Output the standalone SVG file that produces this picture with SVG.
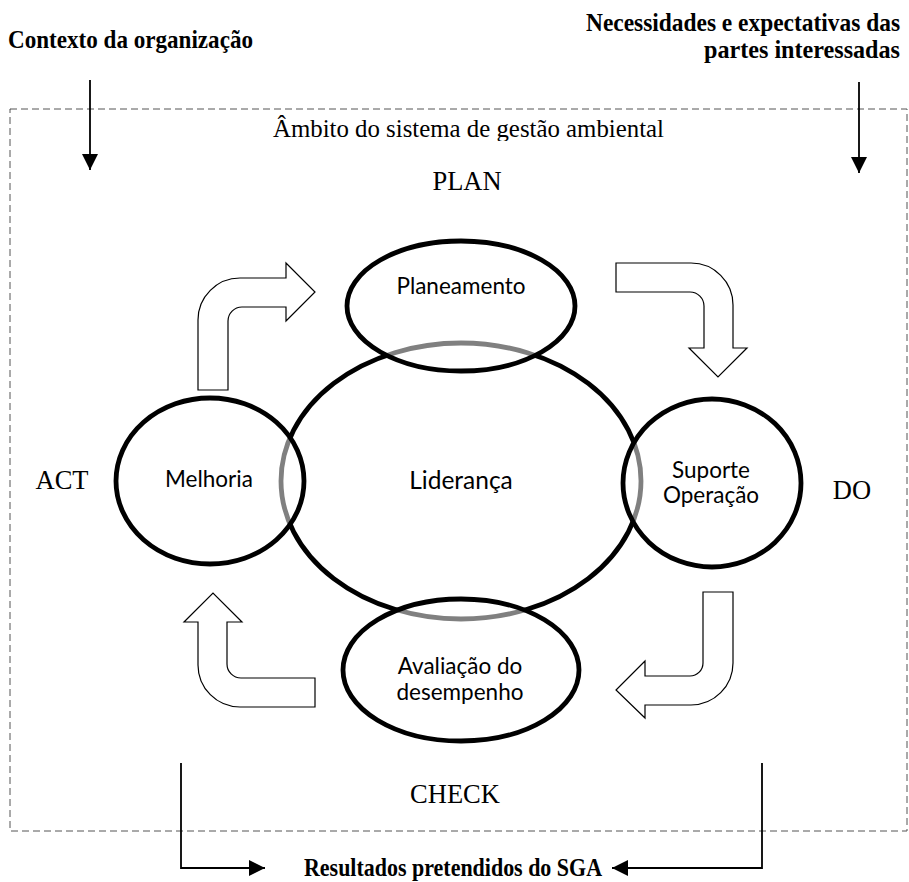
<svg xmlns="http://www.w3.org/2000/svg" width="909" height="882" viewBox="0 0 909 882">
  <style>
    .serif { font-family: "Liberation Serif", "Times New Roman", serif; fill: #000; }
    .bold { font-weight: bold; font-size: 25px; }
    .phase { font-size: 26.5px; text-anchor: middle; }
    .sans { font-family: Lato, "Noto Sans", sans-serif; fill: #000; text-anchor: middle; }
    .ring { stroke: #000; stroke-width: 4.8; }
    .block { fill: #fff; stroke: #000; stroke-width: 1.2; stroke-linejoin: miter; }
    .line { fill: none; stroke: #000; stroke-width: 1.8; }
  </style>
  <defs>
    <marker id="headBig" viewBox="0 0 10 10" refX="10" refY="5" markerWidth="16" markerHeight="16" markerUnits="userSpaceOnUse" orient="auto">
      <path d="M0,0 L10,5 L0,10 Z" fill="#000"/>
    </marker>
    <clipPath id="scopeClip">
      <rect x="200" y="100" width="520" height="41"/>
    </clipPath>
  </defs>

  <!-- scope boundary -->
  <rect id="scope" x="10" y="109" width="897" height="722" fill="none" stroke="#555" stroke-width="1" stroke-dasharray="7,4"/>
  <text class="serif" x="273" y="137" font-size="25.5" textLength="391" lengthAdjust="spacingAndGlyphs" clip-path="url(#scopeClip)">Âmbito do sistema de gestão ambiental</text>

  <!-- inputs and outputs -->
  <g id="inputs">
    <text class="serif bold" x="8" y="48" textLength="245" lengthAdjust="spacingAndGlyphs">Contexto da organização</text>
    <text class="serif bold" x="586" y="31" textLength="314" lengthAdjust="spacingAndGlyphs">Necessidades e expectativas das</text>
    <text class="serif bold" x="704" y="58" textLength="196" lengthAdjust="spacingAndGlyphs">partes interessadas</text>
  </g>
  <g id="outputs">
    <text class="serif bold" x="304" y="876" textLength="298" lengthAdjust="spacingAndGlyphs">Resultados pretendidos do SGA</text>
  </g>

  <!-- phase labels -->
  <g id="phases">
    <text class="serif phase" x="467" y="190">PLAN</text>
    <text class="serif phase" x="852" y="499">DO</text>
    <text class="serif phase" x="455" y="803">CHECK</text>
    <text class="serif phase" x="62" y="489">ACT</text>
  </g>

  <g id="connectors">
    <line class="line" x1="90" y1="80" x2="90" y2="170" marker-end="url(#headBig)"/>
    <line class="line" x1="859" y1="82" x2="859" y2="173" marker-end="url(#headBig)"/>
    <polyline class="line" points="181,763 181,868 265,868" marker-end="url(#headBig)"/>
    <polyline class="line" points="762,763 762,868 612,868" marker-end="url(#headBig)"/>

    <!-- PDCA block arrows -->
    <path class="block" d="M198,390 L198,320 A42,42 0 0 1 240,278 L286,278 L286,263 L315,292 L286,321 L286,307 L242,307 A14,14 0 0 0 228,321 L228,390 Z"/>
    <path class="block" d="M616,263 L691,263 A42,42 0 0 1 733,305 L733,348 L747,348 L718,377 L689,348 L704,348 L704,306 A14,14 0 0 0 690,292 L616,292 Z"/>
    <path class="block" d="M733,592 L733,663 A42,42 0 0 1 691,705 L645,705 L645,718 L616,690 L645,661 L645,676 L690,676 A13,13 0 0 0 703,663 L703,592 Z"/>
    <path class="block" d="M315,707 L240,707 A42,42 0 0 1 198,665 L198,622 L184,622 L213,593 L242,622 L227,622 L227,664 A14,14 0 0 0 241,678 L315,678 Z"/>
  </g>

  <!-- central leadership ring -->
  <g id="lideranca">
    <ellipse class="ring" cx="461" cy="481" rx="180" ry="138" fill="#fff"/>
    <text class="sans" x="461" y="489" font-size="24.5">Liderança</text>
  </g>

  <!-- outer rings: half-transparent fill lets the central ring show through in grey -->
  <g id="planeamento">
    <ellipse class="ring" cx="461" cy="306" rx="114" ry="65" fill="#fff" fill-opacity="0.5"/>
    <text class="sans" x="461" y="294" font-size="22.5">Planeamento</text>
  </g>
  <g id="suporte">
    <ellipse class="ring" cx="712" cy="483" rx="89" ry="84" fill="#fff" fill-opacity="0.5"/>
    <text class="sans" x="711" y="478" font-size="22.5">Suporte</text>
    <text class="sans" x="711" y="503" font-size="22.5">Operação</text>
  </g>
  <g id="avaliacao">
    <ellipse class="ring" cx="461" cy="670" rx="118" ry="71" fill="#fff" fill-opacity="0.5"/>
    <text class="sans" x="460" y="674" font-size="22.5">Avaliação do</text>
    <text class="sans" x="460" y="700" font-size="22.5">desempenho</text>
  </g>
  <g id="melhoria">
    <ellipse class="ring" cx="210" cy="481" rx="94" ry="83" fill="#fff" fill-opacity="0.5"/>
    <text class="sans" x="209" y="487" font-size="22.5">Melhoria</text>
  </g>
</svg>
